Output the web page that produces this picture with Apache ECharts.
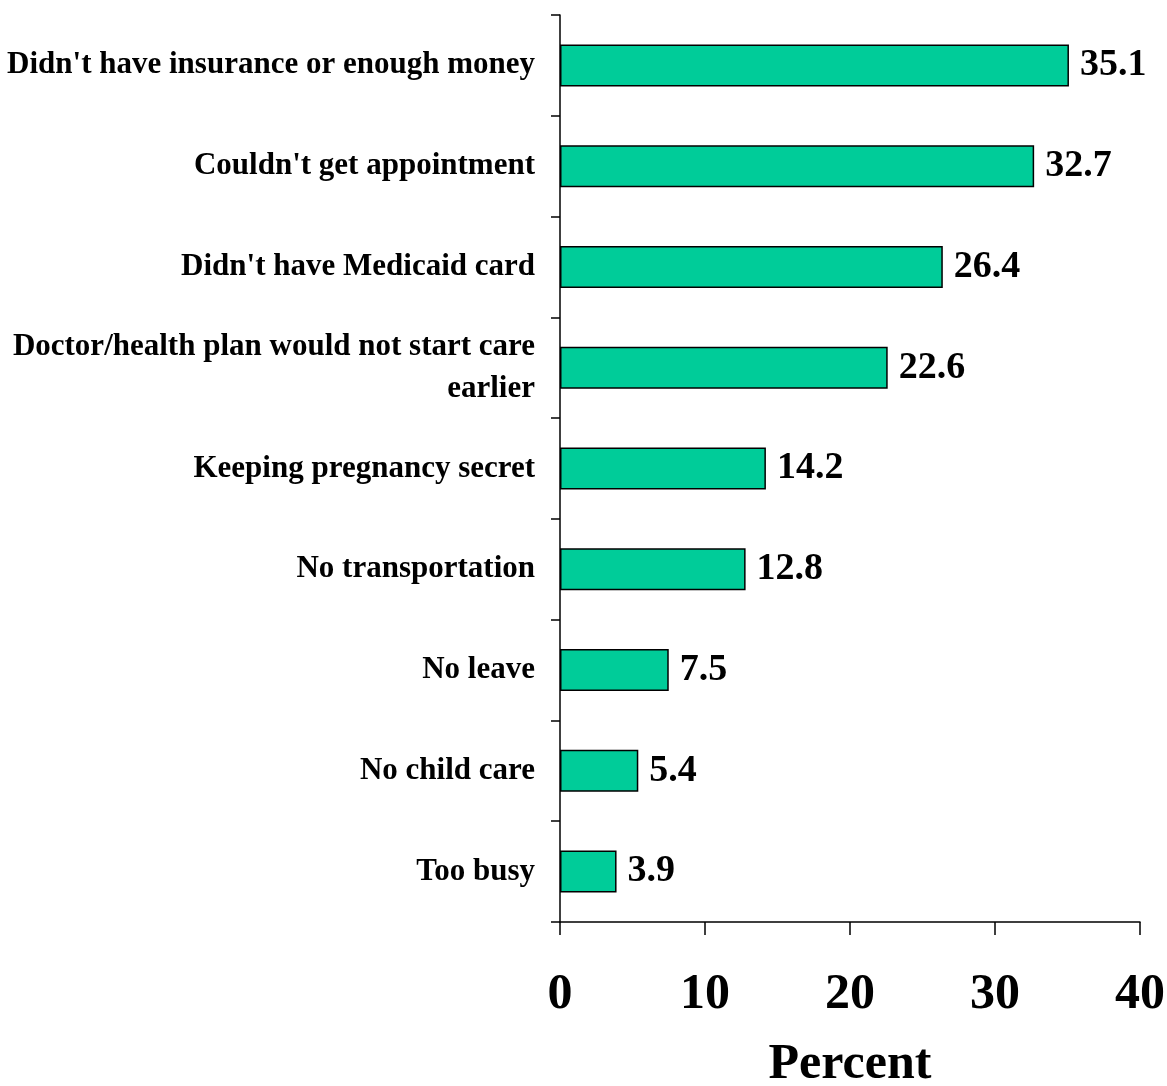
<!DOCTYPE html>
<html>
<head>
<meta charset="utf-8">
<script src="https://cdn.jsdelivr.net/npm/echarts@6/dist/echarts.min.js"></script>
<style>
html,body{margin:0;padding:0;background:#fff;}
#chart{width:1167px;height:1086px;}
</style>
</head>
<body>
<div id="chart"></div>
<script>
const categories = [
  "Didn't have insurance or enough money",
  "Couldn't get appointment",
  "Didn't have Medicaid card",
  "Doctor/health plan would not start care\nearlier",
  "Keeping pregnancy secret",
  "No transportation",
  "No leave",
  "No child care",
  "Too busy"
];
const values = [35.1, 32.7, 26.4, 22.6, 14.2, 12.8, 7.5, 5.4, 3.9];
const xTicks = [0, 10, 20, 30, 40];
const xTitle = "Percent";

const font = "'Liberation Serif', 'Times New Roman', serif";
const chart = echarts.init(document.getElementById('chart'));
chart.setOption({
  animation: false,
  backgroundColor: '#ffffff',
  grid: { left: 560, right: 27, top: 15, bottom: 164, containLabel: false, outerBoundsMode: 'none' },
  xAxis: {
    type: 'value',
    min: xTicks[0],
    max: xTicks[xTicks.length - 1],
    interval: 10,
    name: xTitle,
    nameLocation: 'middle',
    nameGap: 118,
    nameTextStyle: { fontFamily: font, fontWeight: 'bold', fontSize: 50, color: '#000' },
    axisLine: { show: true, lineStyle: { color: '#000', width: 1.5 } },
    axisTick: { show: true, length: 13, lineStyle: { color: '#000', width: 1.5 } },
    axisLabel: { fontFamily: font, fontWeight: 'bold', fontSize: 50, color: '#000', margin: 48 },
    splitLine: { show: false }
  },
  yAxis: {
    type: 'category',
    data: categories,
    inverse: true,
    axisLine: { show: true, lineStyle: { color: '#000', width: 1.5 } },
    axisTick: { show: true, length: 9, lineStyle: { color: '#000', width: 1.5 } },
    axisLabel: {
      fontFamily: font, fontWeight: 'bold', fontSize: 31, color: '#000',
      margin: 25, lineHeight: 42, align: 'right', padding: [10, 0, 0, 0]
    },
    splitLine: { show: false }
  },
  series: [{
    type: 'bar',
    data: values,
    barWidth: 42,
    itemStyle: { color: '#00CC99', borderColor: '#000', borderWidth: 1.5 },
    label: {
      show: true, position: 'right', distance: 11,
      fontFamily: font, fontWeight: 'bold', fontSize: 38, color: '#000',
      padding: [8, 0, 0, 0],
      formatter: p => p.value.toFixed(1)
    }
  }]
});
</script>
</body>
</html>
